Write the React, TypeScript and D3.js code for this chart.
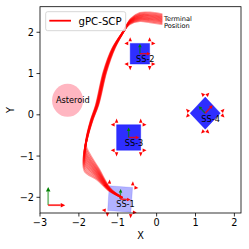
import React from 'react';
import * as d3 from 'd3';

const width = 249;
const height = 249;
const plot = { left: 40, right: 241, top: 6.7, bottom: 213 };

// axes
const xTicks = [-3, -2, -1, 0, 1, 2];
const yTicks = [-2, -1, 0, 1, 2];
const xDomain = [-3, 2.17];
const yDomain = [-2.38, 2.62];

// spacecraft
const craftNames = ['SS-1', 'SS-2', 'SS-3', 'SS-4'];
const craftX = [-0.94, -0.43, -0.72, 1.25];
const craftY = [-2.04, 1.48, -0.55, 0.04];
const craftSide = [0.6, 0.5, 0.62, 0.55];
const craftAngle = [-4, 0, 0, 45];
const craftAlpha = [0.3, 0.82, 0.82, 0.82];

// asteroid
const asteroid = { x: -2.29, y: 0.35, r: 0.4 };

// trajectory samples: mean path + spread
const pathX = [-0.9, -1.2, -1.5, -1.84, -1.8, -1.67, -1.53, -1.33, -1.11, -0.86, -0.68, -0.43, -0.17, 0.13];
const pathY = [-2.0, -1.82, -1.45, -1.05, -0.6, -0.13, 0.24, 1.04, 1.61, 2.01, 2.26, 2.37, 2.36, 2.32];
const spreadX = [0, 0.01, 0.02, 0.02, 0.02, 0.03, 0.035, 0.04, 0.04, 0.03, 0.02, 0, 0, 0];
const spreadY = [0, 0.03, 0.13, 0.3, 0.05, 0.02, 0.01, 0.01, 0.02, 0.04, 0.07, 0.1, 0.12, 0.12];
const sampleOffsets = [-1, -0.8, -0.6, -0.45, -0.3, -0.15, 0, 0.15, 0.3, 0.45, 0.6, 0.8, 1];

// inertial frame
const frameOrigin = { x: -2.79, y: -2.19 };
const frameLen = 0.44;

const red = '#ff0000';
const green = '#008000';
const font = 'DejaVu Sans, sans-serif';

const x = d3.scaleLinear().domain(xDomain).range([plot.left, plot.right]);
const y = d3.scaleLinear().domain(yDomain).range([plot.bottom, plot.top]);

function Arrow({ x0, y0, x1, y1, color, w, head, shaftOpacity }) {
  const px0 = x(x0), py0 = y(y0), px1 = x(x1), py1 = y(y1);
  const a = Math.atan2(py1 - py0, px1 - px0);
  const bx = px1 - head * Math.cos(a), by = py1 - head * Math.sin(a);
  const nx = -Math.sin(a) * head * 0.5, ny = Math.cos(a) * head * 0.5;
  return (
    <g>
      <line x1={px0} y1={py0} x2={bx} y2={by} stroke={color} strokeWidth={w} strokeOpacity={shaftOpacity} />
      <polygon points={`${px1},${py1} ${bx + nx},${by + ny} ${bx - nx},${by - ny}`} fill={color} />
    </g>
  );
}

function Craft({ i }) {
  const cx = craftX[i], cy = craftY[i], h = craftSide[i] / 2;
  const t = (craftAngle[i] * Math.PI) / 180;
  const rot = (u, v) => [cx + u * Math.cos(t) - v * Math.sin(t), cy + u * Math.sin(t) + v * Math.cos(t)];
  const corners = [[-h, -h], [h, -h], [h, h], [-h, h]].map(([u, v]) => rot(u, v));
  const pts = corners.map(([a, b]) => `${x(a)},${y(b)}`).join(' ');
  const thrusters = [];
  [[-1, -1], [1, -1], [1, 1], [-1, 1]].forEach(([sx, sy]) => {
    // vertical-pointing and horizontal-pointing thruster at each corner
    [[0, sy], [sx, 0]].forEach(([dx, dy]) => {
      const bu = sx * h + dx * 0.05, bv = sy * h + dy * 0.05;
      const tu = sx * h + dx * 0.15, tv = sy * h + dy * 0.15;
      const wu = dy * 0.045, wv = dx * 0.045;
      const p = [rot(tu, tv), rot(bu + wu, bv + wv), rot(bu - wu, bv - wv)];
      thrusters.push(p.map(([a, b]) => `${x(a)},${y(b)}`).join(' '));
    });
  });
  const ax = rot(0.27, 0), ay = rot(0, 0.24);
  return (
    <g>
      <polygon points={pts} fill="#0000ff" fillOpacity={craftAlpha[i]} stroke="#0000ff" strokeOpacity={craftAlpha[i] * 0.4} strokeWidth={1} />
      {thrusters.map((p, k) => <polygon key={k} points={p} fill={red} />)}
      <Arrow x0={cx} y0={cy} x1={ay[0]} y1={ay[1]} color={green} w={1.4} head={3.5} shaftOpacity={0.7} />
      <Arrow x0={cx} y0={cy} x1={ax[0]} y1={ax[1]} color={red} w={1.4} head={3.5} shaftOpacity={0.8} />
      <text x={x(cx - 0.1)} y={y(cy - 0.13)} fontSize={8.2} fontFamily={font} dominantBaseline="central" fill="#000">{craftNames[i]}</text>
    </g>
  );
}

export default function App() {
  const line = d3.line().x(d => x(d[0])).y(d => y(d[1])).curve(d3.curveCatmullRom.alpha(0.5));
  const samples = sampleOffsets.map(o => pathX.map((px, k) => [px + o * spreadX[k], pathY[k] + o * spreadY[k]]));

  return (
    <svg width={width} height={height} style={{ position: 'absolute', left: 0, top: 0, background: '#fff' }}>
      <rect x={0} y={0} width={width} height={height} fill="#fff" />
      <ellipse cx={x(asteroid.x)} cy={y(asteroid.y)} rx={x(asteroid.x + asteroid.r) - x(asteroid.x)} ry={y(asteroid.y) - y(asteroid.y + asteroid.r)} fill="#ffb6c1" />
      <text x={x(asteroid.x - 0.3)} y={y(asteroid.y)} fontSize={8.2} fontFamily={font} dominantBaseline="central">Asteroid</text>

      {craftNames.map((n, i) => <Craft key={n} i={i} />)}

      {samples.map((s, k) => (
        <path key={k} d={line(s)} fill="none" stroke={red} strokeOpacity={0.4} strokeWidth={1.8} strokeLinecap="round" />
      ))}

      <text fontSize={6.6} fontFamily={font} fill="#000">
        <tspan x={164} y={20.5}>Terminal</tspan>
        <tspan x={164} y={28}>Position</tspan>
      </text>

      <Arrow x0={frameOrigin.x} y0={frameOrigin.y} x1={frameOrigin.x} y1={frameOrigin.y + frameLen} color={green} w={1.8} head={4.5} shaftOpacity={0.5} />
      <Arrow x0={frameOrigin.x} y0={frameOrigin.y} x1={frameOrigin.x + frameLen} y1={frameOrigin.y} color={red} w={1.8} head={4.5} shaftOpacity={0.8} />

      {/* frame */}
      <rect x={plot.left} y={plot.top} width={plot.right - plot.left} height={plot.bottom - plot.top} fill="none" stroke="#000" strokeWidth={0.8} />
      {xTicks.map(t => (
        <g key={t} transform={`translate(${x(t)},${plot.bottom})`}>
          <line y2={3.5} stroke="#000" strokeWidth={0.8} />
          <text y={9} fontSize={9.7} fontFamily={font} textAnchor="middle" dominantBaseline="central">{t < 0 ? `\u2212${-t}` : t}</text>
        </g>
      ))}
      {yTicks.map(t => (
        <g key={t} transform={`translate(${plot.left},${y(t)})`}>
          <line x2={-3.5} stroke="#000" strokeWidth={0.8} />
          <text x={-6} fontSize={9.7} fontFamily={font} textAnchor="end" dominantBaseline="central">{t < 0 ? `\u2212${-t}` : t}</text>
        </g>
      ))}
      <text x={(plot.left + plot.right) / 2} y={235} fontSize={9.7} fontFamily={font} textAnchor="middle" dominantBaseline="central">X</text>
      <text transform="translate(10.3,110) rotate(-90)" fontSize={9.7} fontFamily={font} textAnchor="middle" dominantBaseline="central">Y</text>

      {/* legend */}
      <rect x={45.7} y={11.7} width={80} height={19} rx={2} fill="#fff" fillOpacity={0.8} stroke="#cccccc" strokeWidth={0.8} />
      <line x1={49.3} x2={71} y1={20.7} y2={20.7} stroke={red} strokeWidth={1.8} />
      <text x={78.5} y={21} fontSize={10.2} fontFamily={font} dominantBaseline="central">gPC-SCP</text>
    </svg>
  );
}
